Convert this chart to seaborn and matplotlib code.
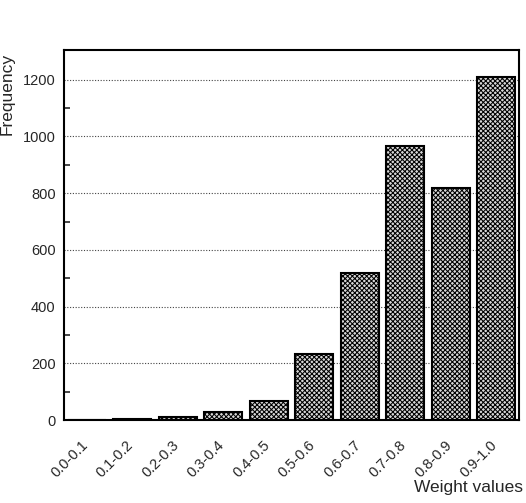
import matplotlib
matplotlib.use("Agg")
import matplotlib.pyplot as plt
import matplotlib.transforms as mtransforms
import seaborn as sns
import pandas as pd

categories = ["0.0-0.1", "0.1-0.2", "0.2-0.3", "0.3-0.4", "0.4-0.5",
              "0.5-0.6", "0.6-0.7", "0.7-0.8", "0.8-0.9", "0.9-1.0"]
frequency = [0, 2, 9, 27, 66, 233, 518, 968, 817, 1210]
yticks = [0, 200, 400, 600, 800, 1000, 1200]

sns.set_style("white")
plt.rcParams['font.family'] = ['Liberation Sans', 'DejaVu Sans']
plt.rcParams['hatch.linewidth'] = 0.75

df = pd.DataFrame({"cat": categories, "freq": frequency})

fig = plt.figure(figsize=(5.26, 5.03), dpi=100)
ax = fig.add_axes([64/526, 1 - 420/503, (519-64)/526, (420-50)/503])

sns.barplot(data=df, x="cat", y="freq", ax=ax, color="#b0b0b0",
            width=0.83, edgecolor="black", linewidth=1.5, zorder=3)
for p in ax.patches:
    p.set_hatch("xxxxxxx")
    p.set_facecolor("#d8d8d8")

ax.set_xlim(-0.5, 9.5)
ax.set_ylim(0, 1305)
ax.set_yticks(yticks)
ax.set_yticks(range(100, 1300, 200), minor=True)
ax.yaxis.grid(True, which="major", linestyle=(0, (1, 1.5)), color="#444444",
              linewidth=0.8, zorder=0)
ax.tick_params(axis="y", which="major", direction="in", length=7, width=1.2,
               labelsize=10.5, pad=6)
ax.tick_params(axis="y", which="minor", direction="in", length=4, width=1.2, left=True)
ax.tick_params(axis="x", length=0, labelsize=10.5, pad=13)
offset = mtransforms.ScaledTranslation(-6/100, 0, fig.dpi_scale_trans)
for lab in ax.get_xticklabels():
    lab.set_rotation(45)
    lab.set_ha("right")
    lab.set_rotation_mode("anchor")
    lab.set_transform(lab.get_transform() + offset)
for s in ax.spines.values():
    s.set_linewidth(1.5)
    s.set_color("black")

ax.set_ylabel("Frequency", fontsize=12.5, loc="top")
ax.yaxis.set_label_coords(-0.108, 0.992)
ax.set_xlabel("Weight values", fontsize=12.5, loc="right")
ax.xaxis.set_label_coords(1.009, -0.163)

fig.savefig("out.png", dpi=100)
